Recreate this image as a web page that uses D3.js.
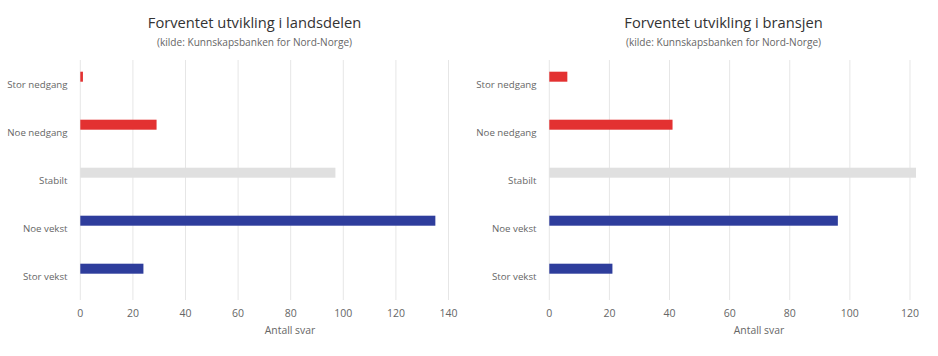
<!DOCTYPE html>
<html><head><meta charset="utf-8">
<script src="https://cdn.jsdelivr.net/npm/d3@7"></script>
<style>body{margin:0;background:#fff}svg{display:block}</style>
</head><body>
<svg id="c" width="938" height="356"></svg>
<script>
const categories = ["Stor nedgang","Noe nedgang","Stabilt","Noe vekst","Stor vekst"];
const colors = ["#e33131","#e33131","#e0e0e0","#2e3d9c","#2e3d9c"];
const titles = ["Forventet utvikling i landsdelen","Forventet utvikling i bransjen"];
const subtitle = "(kilde: Kunnskapsbanken for Nord-Norge)";
const landsdelen = [1, 29, 97, 135, 24];
const bransjen = [6, 41, 122, 96, 21];
const ticksLeft = [0,20,40,60,80,100,120,140];
const ticksRight = [0,20,40,60,80,100,120];
const axisTitle = "Antall svar";

const svg = d3.select("#c");
const font = "'Open Sans', sans-serif";

function chart(ox, title, values, ticks, xmax){
  const g = svg.append("g").attr("transform",`translate(${ox},0)`);
  const x = d3.scaleLinear().domain([0,xmax]).range([80.3,448.5]);
  const y = d3.scaleBand().domain(categories).range([60,300]);
  g.append("text").attr("x",254.5).attr("y",27.5).attr("text-anchor","middle")
    .attr("font-family",font).attr("font-size",14.7).attr("fill","#333").text(title);
  g.append("text").attr("x",254.5).attr("y",46).attr("text-anchor","middle")
    .attr("font-family",font).attr("font-size",10.1).attr("fill","#666").text(subtitle);
  g.selectAll(".grid").data(ticks).enter().append("line")
    .attr("x1",d=>x(d)).attr("x2",d=>x(d)).attr("y1",60).attr("y2",300)
    .attr("stroke","#e6e6e6").attr("stroke-width",1);
  g.selectAll(".bar").data(values).enter().append("rect")
    .attr("x",x(0)).attr("width",d=>x(d)-x(0))
    .attr("y",(d,i)=>y(categories[i])+y.bandwidth()/2-7.3-5).attr("height",10)
    .attr("fill",(d,i)=>colors[i]);
  g.selectAll(".cl").data(categories).enter().append("text")
    .attr("x",67.5).attr("y",d=>y(d)+y.bandwidth()/2+3.5).attr("text-anchor","end")
    .attr("font-family",font).attr("font-size",9.7).attr("fill","#666").text(d=>d);
  g.selectAll(".tl").data(ticks).enter().append("text")
    .attr("x",d=>x(d)).attr("y",317).attr("text-anchor","middle")
    .attr("font-family",font).attr("font-size",10.5).attr("fill","#666").text(d=>d);
  g.append("text").attr("x",290).attr("y",334).attr("text-anchor","middle")
    .attr("font-family",font).attr("font-size",10.4).attr("fill","#666").text(axisTitle);
}
chart(0, titles[0], landsdelen, ticksLeft, 140);
chart(469, titles[1], bransjen, ticksRight, 122.5);
</script>
</body></html>
